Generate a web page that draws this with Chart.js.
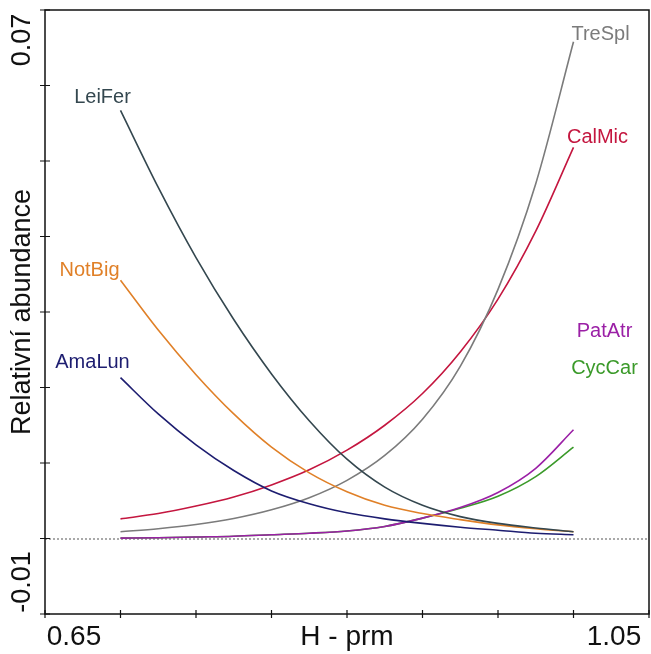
<!DOCTYPE html>
<html>
<head>
<meta charset="utf-8">
<script src="https://cdn.jsdelivr.net/npm/chart.js@4.4.0/dist/chart.umd.min.js"></script>
<style>
  html, body { margin: 0; padding: 0; background: #fff; }
  #wrap { width: 651px; height: 654px; }
</style>
</head>
<body>
<div id="wrap"><canvas id="chart" width="651" height="654"></canvas></div>
<script>
// gradient values (H - prm) where the response curves were read
const hValues = [0.70, 0.725, 0.75, 0.775, 0.80, 0.825, 0.85, 0.875, 0.90, 0.925, 0.95, 0.975, 1.00];

// relative abundance
const leiFer = [0.0567, 0.0465, 0.0372, 0.0290, 0.0218, 0.0156, 0.0105, 0.0068, 0.0044, 0.0029, 0.0020, 0.0014, 0.0009];
const notBig = [0.0342, 0.0276, 0.0217, 0.0165, 0.0121, 0.0087, 0.0062, 0.0044, 0.0033, 0.0025, 0.0018, 0.0013, 0.0009];
const amaLun = [0.0213, 0.0165, 0.0124, 0.0090, 0.0063, 0.0046, 0.0034, 0.0026, 0.0020, 0.0015, 0.0011, 0.0007, 0.0005];
const treSpl = [0.0009, 0.0013, 0.00185, 0.00265, 0.0038, 0.0054, 0.0077, 0.0110, 0.0158, 0.0228, 0.0330, 0.0470, 0.0658];
const calMic = [0.0026, 0.0033, 0.0043, 0.0055, 0.0071, 0.0091, 0.0117, 0.0150, 0.0192, 0.0247, 0.0317, 0.0407, 0.0518];
const patAtr = [0.00005, 0.0001, 0.0002, 0.0003, 0.0005, 0.0007, 0.0010, 0.0016, 0.0027, 0.0041, 0.0061, 0.0093, 0.0144];
const cycCar = [0.00005, 0.0001, 0.0002, 0.0003, 0.0005, 0.0007, 0.0010, 0.0016, 0.0027, 0.0040, 0.0056, 0.0082, 0.0121];

const speciesNames = ['LeiFer', 'NotBig', 'AmaLun', 'TreSpl', 'CalMic', 'PatAtr', 'CycCar'];
const speciesValues = [leiFer, notBig, amaLun, treSpl, calMic, patAtr, cycCar];

// axis ticks and end labels
const xTicks = [0.65, 0.70, 0.75, 0.80, 0.85, 0.90, 0.95, 1.00, 1.05];
const yTicks = [-0.01, 0, 0.01, 0.02, 0.03, 0.04, 0.05, 0.06, 0.07];
const xEndLabels = ['0.65', '1.05'];
const yEndLabels = ['-0.01', '0.07'];
const xTitle = 'H - prm';
const yTitle = 'Relativní abundance';

// colours and where each species name sits relative to its curve end
const speciesStyle = {
  LeiFer: { color: '#34474f', anchor: 'first', dx: -18, dy: -13 },
  NotBig: { color: '#e08028', anchor: 'first', dx: -31, dy: -10 },
  AmaLun: { color: '#1d1d70', anchor: 'first', dx: -28, dy: -15 },
  TreSpl: { color: '#7b7b7b', anchor: 'last', dx: 27, dy: -7 },
  CalMic: { color: '#c4163f', anchor: 'last', dx: 24, dy: -10 },
  PatAtr: { color: '#9b20a6', anchor: 'last', dx: 31, dy: -98 },
  CycCar: { color: '#3b9a2a', anchor: 'last', dx: 31, dy: -79 }
};

const datasets = speciesNames.map((name, i) => ({
  label: name,
  data: hValues.map((h, j) => ({ x: h, y: speciesValues[i][j] })),
  borderColor: speciesStyle[name].color,
  borderWidth: 1.6,
  pointRadius: 0,
  fill: false,
  cubicInterpolationMode: 'monotone'
}));

const FONT = 'Arial, "Liberation Sans", sans-serif';

const framePlugin = {
  id: 'frame',
  beforeDatasetsDraw(chart) {
    const { ctx, chartArea: a, scales } = chart;
    const y0 = scales.y.getPixelForValue(0);
    ctx.save();
    ctx.strokeStyle = '#555';
    ctx.lineWidth = 1;
    ctx.setLineDash([2, 2]);
    ctx.beginPath();
    ctx.moveTo(a.left, y0 + 0.5);
    ctx.lineTo(a.right, y0 + 0.5);
    ctx.stroke();
    ctx.restore();
  },
  afterDraw(chart) {
    const { ctx, chartArea: a, scales } = chart;
    ctx.save();
    ctx.strokeStyle = '#111';
    ctx.lineWidth = 1.5;
    ctx.strokeRect(a.left, a.top, a.right - a.left, a.bottom - a.top);

    // tick marks crossing the axes
    ctx.lineWidth = 1.2;
    ctx.beginPath();
    xTicks.forEach(v => {
      const px = scales.x.getPixelForValue(v);
      ctx.moveTo(px, a.bottom - 4);
      ctx.lineTo(px, a.bottom + 4);
    });
    yTicks.forEach(v => {
      const py = scales.y.getPixelForValue(v);
      ctx.moveTo(a.left - 5, py);
      ctx.lineTo(a.left + 5, py);
    });
    ctx.stroke();

    // axis end labels and titles
    ctx.fillStyle = '#111';
    ctx.font = '28px ' + FONT;
    ctx.textBaseline = 'middle';
    ctx.textAlign = 'center';
    const ly = a.bottom + 23;
    ctx.fillText(xEndLabels[0], scales.x.getPixelForValue(xTicks[0]) + 29, ly);
    ctx.fillText(xEndLabels[1], scales.x.getPixelForValue(xTicks[xTicks.length - 1]) - 35, ly);
    ctx.fillText(xTitle, (a.left + a.right) / 2, ly);

    ctx.save();
    ctx.translate(23, 0);
    ctx.rotate(-Math.PI / 2);
    ctx.font = '27px ' + FONT;
    ctx.fillText(yEndLabels[1], -(scales.y.getPixelForValue(yTicks[yTicks.length - 1]) + 30), 0);
    ctx.fillText(yEndLabels[0], -(scales.y.getPixelForValue(yTicks[0]) - 32), 0);
    ctx.fillText(yTitle, -(a.top + a.bottom) / 2, 0);
    ctx.restore();

    // species names next to their curves
    ctx.font = '20px ' + FONT;
    chart.data.datasets.forEach(ds => {
      const st = speciesStyle[ds.label];
      const pt = st.anchor === 'first' ? ds.data[0] : ds.data[ds.data.length - 1];
      const px = scales.x.getPixelForValue(pt.x) + st.dx;
      const py = scales.y.getPixelForValue(pt.y) + st.dy;
      ctx.fillStyle = st.color;
      ctx.fillText(ds.label, px, py);
    });
    ctx.restore();
  }
};

new Chart(document.getElementById('chart').getContext('2d'), {
  type: 'line',
  data: { datasets },
  options: {
    responsive: false,
    animation: false,
    layout: { padding: { left: 45, right: 2, top: 10, bottom: 40 } },
    plugins: { legend: { display: false }, tooltip: { enabled: false } },
    scales: {
      x: { type: 'linear', min: 0.65, max: 1.05, display: false },
      y: { type: 'linear', min: -0.01, max: 0.07, display: false }
    }
  },
  plugins: [framePlugin]
});
</script>
</body>
</html>
